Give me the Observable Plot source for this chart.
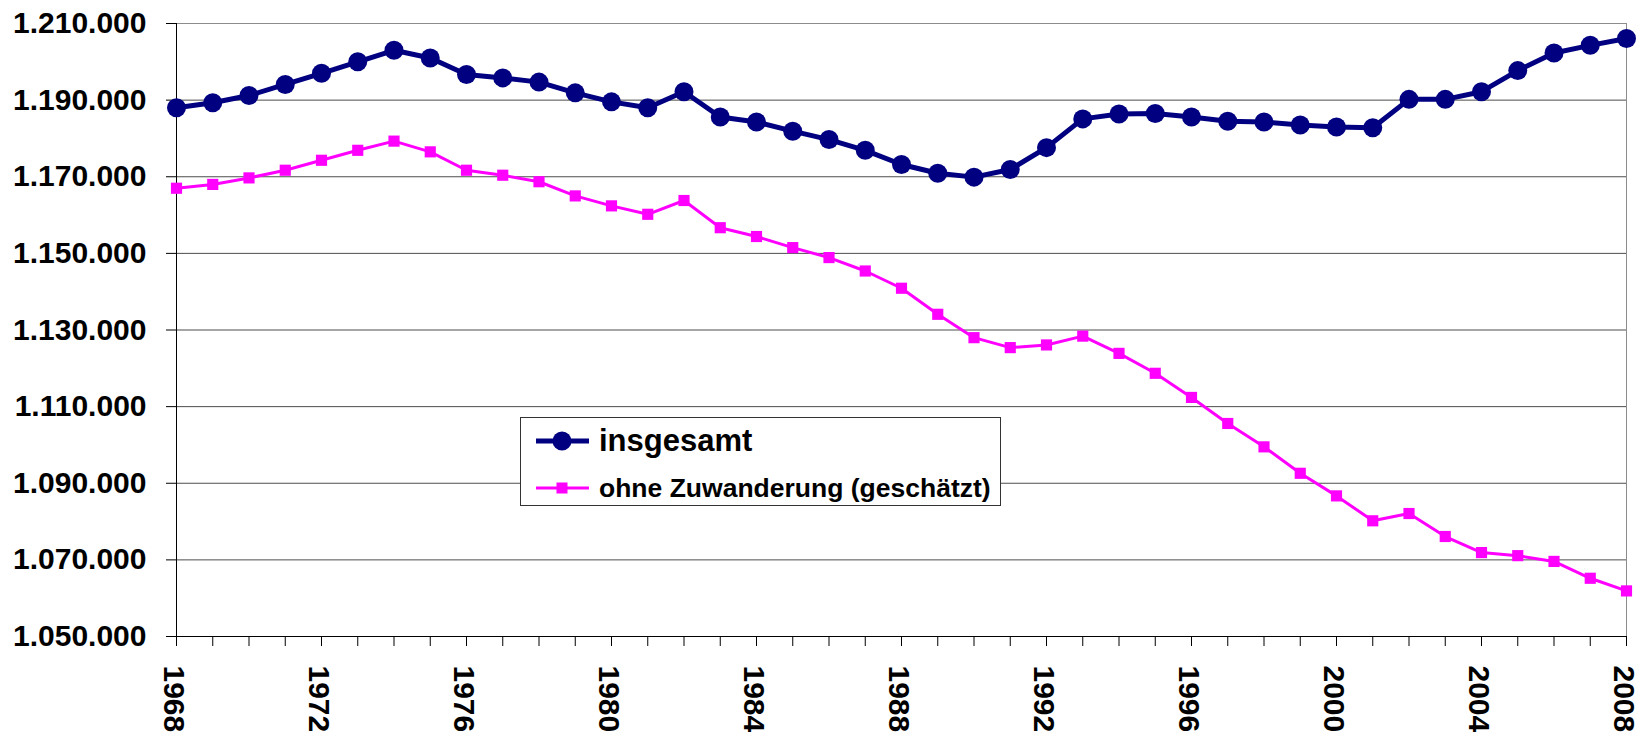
<!DOCTYPE html>
<html><head><meta charset="utf-8">
<script src="https://cdn.jsdelivr.net/npm/d3@7"></script>
<script src="https://cdn.jsdelivr.net/npm/@observablehq/plot@0.6"></script>
<style>
body{margin:0;background:#fff;}
#wrap{position:relative;width:1640px;height:739px;overflow:hidden;font-family:"Liberation Sans",Arial,sans-serif;}
#legend{position:absolute;left:520px;top:417px;width:481px;height:89px;border:1px solid #333;background:#fff;box-sizing:border-box;}
.item{position:absolute;left:14px;display:flex;align-items:center;font-weight:bold;color:#000;white-space:nowrap;}
.item svg{display:block;margin-right:8px;}
</style>
</head><body>
<div id="wrap"></div>
<script>
const years = [1968,1969,1970,1971,1972,1973,1974,1975,1976,1977,1978,1979,1980,1981,1982,1983,1984,1985,1986,1987,1988,1989,1990,1991,1992,1993,1994,1995,1996,1997,1998,1999,2000,2001,2002,2003,2004,2005,2006,2007,2008];
const labelYears = [1968,1972,1976,1980,1984,1988,1992,1996,2000,2004,2008];
const yTicks = [1050000,1070000,1090000,1110000,1130000,1150000,1170000,1190000,1210000];
const seriesNames = ["insgesamt", "ohne Zuwanderung (geschätzt)"];
const insgesamt = [1188000,1189300,1191200,1194100,1197000,1200000,1203000,1201000,1196700,1195800,1194700,1191900,1189550,1188000,1192200,1185600,1184300,1181900,1179700,1176900,1173200,1170900,1169900,1171900,1177600,1185100,1186400,1186500,1185600,1184500,1184300,1183500,1183000,1182800,1190200,1190200,1192200,1197700,1202300,1204300,1206100];
const ohneZuwanderung = [1167000,1168000,1169700,1171700,1174300,1176900,1179300,1176500,1171700,1170400,1168700,1165000,1162400,1160200,1163800,1156700,1154400,1151500,1148900,1145400,1140900,1134100,1128000,1125400,1126100,1128400,1123900,1118700,1112400,1105600,1099500,1092600,1086700,1080200,1082100,1076100,1071900,1071100,1069600,1065200,1061900];

const rows = years.map((year, i) => ({year, total: insgesamt[i], native: ohneZuwanderung[i]}));
const fmt = d => d3.format(",")(d).replace(/,/g, ".");

const chart = Plot.plot({
  width: 1640, height: 739,
  marginLeft: 176, marginRight: 14, marginTop: 23, marginBottom: 103,
  x: {type: "linear", domain: [1968, 2008]},
  y: {type: "linear", domain: [1050000, 1210000]},
  style: {fontFamily: "'Liberation Sans', Arial, sans-serif", background: "#fff", overflow: "visible", color: "#000"},
  marks: [
    Plot.ruleY(yTicks.slice(1, -1), {stroke: "#4d4d4d", strokeWidth: 1}),
    Plot.ruleY([yTicks[yTicks.length - 1]], {stroke: "#8c8c8c", strokeWidth: 1}),
    Plot.ruleX([2008], {stroke: "#8c8c8c", strokeWidth: 1}),
    Plot.axisY({ticks: yTicks, tickSize: 10, tickPadding: 20, tickFormat: fmt, fontSize: 30, fontWeight: "bold", label: null}),
    Plot.axisX({ticks: years, tickSize: 10, tickFormat: () => "", label: null}),
    Plot.axisX({ticks: labelYears, tickSize: 0, tickPadding: 29, tickRotate: 90, dx: -3, fontSize: 30, fontWeight: "bold", label: null, tickFormat: d => String(d)}),
    Plot.ruleX([1968], {stroke: "#000"}),
    Plot.ruleY([1050000], {stroke: "#000"}),
    Plot.line(rows, {x: "year", y: "total", stroke: "#000080", strokeWidth: 5}),
    Plot.dot(rows, {x: "year", y: "total", r: 9.5, fill: "#000080"}),
    Plot.line(rows, {x: "year", y: "native", stroke: "#ff00ff", strokeWidth: 3}),
    Plot.dot(rows, {x: "year", y: "native", symbol: "square", r: 6.3, fill: "#ff00ff"})
  ]
});
const wrap = document.getElementById("wrap");
wrap.appendChild(chart);

const legend = document.createElement("div");
legend.id = "legend";
legend.innerHTML = `
<div class="item" style="top:6px;height:34px;font-size:31px;">
  <svg width="56" height="24"><line x1="1" y1="12" x2="54" y2="12" stroke="#000080" stroke-width="5"/><circle cx="27" cy="12" r="9.5" fill="#000080"/></svg>
  <span>${seriesNames[0]}</span></div>
<div class="item" style="top:54px;height:32px;font-size:26.5px;">
  <svg width="56" height="24"><line x1="1" y1="12" x2="54" y2="12" stroke="#ff00ff" stroke-width="3"/><rect x="21.5" y="6.5" width="11" height="11" fill="#ff00ff"/></svg>
  <span>${seriesNames[1]}</span></div>`;
wrap.appendChild(legend);
</script>
</body></html>
